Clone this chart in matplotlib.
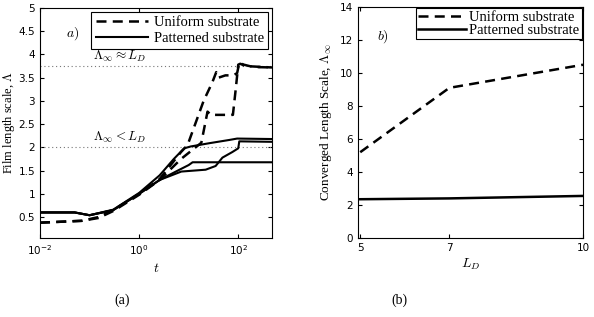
import numpy as np
import matplotlib
matplotlib.use("Agg")
import matplotlib.pyplot as plt

plt.rcParams["mathtext.fontset"] = "cm"
plt.rcParams["font.family"] = "DejaVu Sans"

SERIF = "Liberation Serif"

# ---- panel (a): film length scale vs time ----
t_u1 = [0.01, 0.07, 0.15, 0.3, 1.0, 2.6, 7.0, 9.5, 13, 20, 30, 36, 40, 55, 80, 95, 105, 130, 200, 480]
v_u1 = [0.38, 0.42, 0.50, 0.65, 1.0, 1.32, 1.9, 2.05, 2.45, 3.0, 3.4, 3.62, 3.5, 3.55, 3.55, 3.6, 3.82, 3.78, 3.73, 3.72]
t_u2 = [0.01, 0.07, 0.15, 0.3, 1.0, 2.6, 7.0, 12, 18, 24, 28, 50, 78, 90, 100, 110, 140, 480]
v_u2 = [0.38, 0.42, 0.48, 0.63, 0.98, 1.3, 1.75, 1.95, 2.1, 2.77, 2.7, 2.7, 2.7, 3.3, 3.78, 3.8, 3.75, 3.72]

t_p1 = [0.01, 0.05, 0.1, 0.3, 1.0, 2.6, 5, 8.1, 11, 26, 66, 95, 480]
v_p1 = [0.6, 0.6, 0.54, 0.66, 1.02, 1.4, 1.75, 1.98, 2.02, 2.09, 2.16, 2.19, 2.18]
t_p2 = [0.01, 0.05, 0.1, 0.3, 1.0, 2.6, 7.1, 22, 35, 48, 76, 100, 105, 480]
v_p2 = [0.6, 0.6, 0.54, 0.65, 1.0, 1.3, 1.48, 1.52, 1.6, 1.78, 1.9, 1.98, 2.13, 2.12]
t_p3 = [0.01, 0.05, 0.1, 0.3, 1.0, 2.6, 6, 10, 12, 480]
v_p3 = [0.6, 0.6, 0.54, 0.65, 1.0, 1.3, 1.5, 1.62, 1.68, 1.68]

lam_high = 3.75
lam_low = 2.0

# ---- panel (b): converged length scale vs L_D ----
LD = [5, 7, 10]
conv_uniform = [5.2, 9.1, 10.5]
conv_patterned = [2.35, 2.4, 2.55]

fig = plt.figure(figsize=(5.94, 3.17), dpi=100)
W, H = 594, 317


def px_axes(x0, y0, x1, y1):
    return fig.add_axes([x0 / W, 1 - y1 / H, (x1 - x0) / W, (y1 - y0) / H])


ax1 = px_axes(40, 8, 272, 238)
ax2 = px_axes(358, 7, 583, 238)

for ax in (ax1, ax2):
    ax.tick_params(direction="in", labelsize=7.5, length=3, top=True, right=True, which="both")
    for sp in ax.spines.values():
        sp.set_linewidth(0.8)

# panel a
ax1.set_xscale("log")
ax1.axhline(lam_high, color="#777777", ls=(0, (1, 2.5)), lw=0.8)
ax1.axhline(lam_low, color="#777777", ls=(0, (1, 2.5)), lw=0.8)
ax1.plot(t_u1, v_u1, "k--", lw=1.8, dashes=(4, 2.5), label="Uniform substrate")
ax1.plot(t_u2, v_u2, "k--", lw=1.8, dashes=(4, 2.5))
ax1.plot(t_p1, v_p1, "k-", lw=1.5, label="Patterned substrate")
ax1.plot(t_p2, v_p2, "k-", lw=1.5)
ax1.plot(t_p3, v_p3, "k-", lw=1.5)
ax1.set_xlim(0.01, 480)
ax1.set_ylim(0.05, 5)
ax1.set_yticks(np.arange(0.5, 5.01, 0.5))
ax1.set_yticklabels(["0.5", "1", "1.5", "2", "2.5", "3", "3.5", "4", "4.5", "5"])
ax1.set_xticks([0.01, 1, 100])
ax1.minorticks_off()
ax1.set_xlabel("$t$", fontsize=10, labelpad=3)
ax1.set_ylabel("Film length scale, $\\Lambda$", fontsize=9, family=SERIF, labelpad=1)
ax1.text(0.4, 3.8, "$\\Lambda_\\infty \\approx L_D$", fontsize=9.5, ha="center", va="bottom")
ax1.text(0.4, 2.06, "$\\Lambda_\\infty < L_D$", fontsize=9.5, ha="center", va="bottom")
ax1.text(0.142, 0.89, "$a)$", transform=ax1.transAxes, fontsize=10, ha="center", va="center")
leg1 = ax1.legend(loc="upper right", prop={"family": SERIF, "size": 10.5},
                  handlelength=3.6, handletextpad=0.4, borderpad=0.3, labelspacing=0.15,
                  fancybox=False, edgecolor="black", framealpha=1, borderaxespad=0.25)
leg1.get_frame().set_linewidth(0.8)

# panel b
ax2.plot(LD, conv_uniform, "k--", lw=1.8, dashes=(4, 2.5), label="Uniform substrate")
ax2.plot(LD, conv_patterned, "k-", lw=1.8, label="Patterned substrate")
ax2.set_xlim(4.95, 10)
ax2.set_ylim(0, 14)
ax2.set_xticks(LD)
ax2.set_yticks(np.arange(0, 15, 2))
ax2.set_xlabel("$L_D$", fontsize=10, labelpad=3)
ax2.set_ylabel("Converged Length Scale, $\\Lambda_\\infty$", fontsize=9.5, family=SERIF, labelpad=4)
ax2.text(0.11, 0.87, "$b)$", transform=ax2.transAxes, fontsize=10, ha="center", va="center")
leg2 = ax2.legend(loc="upper right", prop={"family": SERIF, "size": 10.5},
                  handlelength=3.3, handletextpad=0.2, borderpad=0.15, labelspacing=0.0,
                  fancybox=False, edgecolor="black", framealpha=1, borderaxespad=0.1)
leg2.get_frame().set_linewidth(0.8)

fig.text(122 / W, 1 - 300 / H, "(a)", fontsize=10, family=SERIF, ha="center", va="center")
fig.text(399 / W, 1 - 300 / H, "(b)", fontsize=10, family=SERIF, ha="center", va="center")

fig.savefig("out.png", dpi=100)
